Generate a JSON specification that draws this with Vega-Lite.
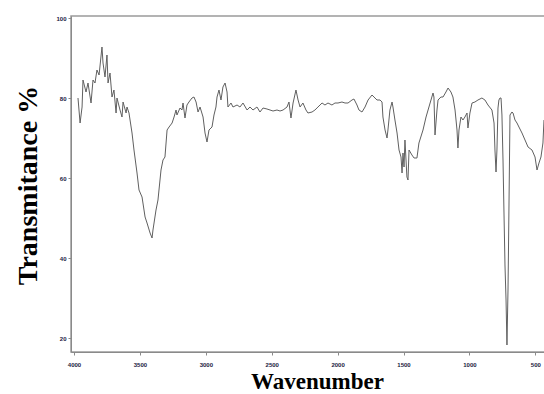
{
  "$schema": "https://vega.github.io/schema/vega-lite/v6.json",
  "autosize": {"type": "none"},
  "padding": {"left": 71, "top": 16, "right": 0, "bottom": 42},
  "width": 478,
  "height": 336,
  "background": "white",
  "config": {
    "view": {"stroke": "#9a9a9a", "strokeWidth": 1.5},
    "axis": {"grid": false, "domainColor": "#8a8a8a", "tickColor": "#8a8a8a", "tickSize": 3, "labelColor": "#1a1a40", "labelFont": "Liberation Sans", "labelFontWeight": "bold", "labelFontSize": 6, "titleFont": "Liberation Serif", "titleFontWeight": "bold", "titleColor": "#000000"}
  },
  "data": {"values": [
    {"wn":3970,"t":80},{"wn":3954,"t":73.75},{"wn":3939,"t":77.75},{"wn":3932,"t":84.5},{"wn":3909,"t":81.5},{"wn":3894,"t":83.75},{"wn":3871,"t":78.75},{"wn":3856,"t":84.5},{"wn":3841,"t":83.75},{"wn":3826,"t":87},{"wn":3810,"t":85.75},{"wn":3788,"t":92.75},{"wn":3780,"t":88.75},{"wn":3765,"t":85.25},{"wn":3750,"t":90.75},{"wn":3742,"t":83.75},{"wn":3727,"t":86.25},{"wn":3712,"t":80.25},{"wn":3697,"t":82},{"wn":3681,"t":76.25},{"wn":3674,"t":80},{"wn":3651,"t":77},{"wn":3636,"t":75.25},{"wn":3628,"t":79},{"wn":3605,"t":76.25},{"wn":3598,"t":77.75},{"wn":3583,"t":76.25},{"wn":3560,"t":71.25},{"wn":3545,"t":67},{"wn":3522,"t":61.25},{"wn":3507,"t":57},{"wn":3484,"t":55.25},{"wn":3461,"t":50.25},{"wn":3446,"t":48.75},{"wn":3423,"t":46.25},{"wn":3408,"t":45},{"wn":3401,"t":47},{"wn":3378,"t":52},{"wn":3363,"t":54.5},{"wn":3340,"t":62},{"wn":3325,"t":64.5},{"wn":3310,"t":65.25},{"wn":3294,"t":72},{"wn":3279,"t":72.75},{"wn":3256,"t":73.75},{"wn":3241,"t":75.25},{"wn":3226,"t":77},{"wn":3219,"t":75.75},{"wn":3196,"t":77.5},{"wn":3181,"t":77},{"wn":3173,"t":78.75},{"wn":3158,"t":75},{"wn":3143,"t":78.25},{"wn":3128,"t":79},{"wn":3105,"t":80},{"wn":3090,"t":80.25},{"wn":3074,"t":79},{"wn":3059,"t":76.5},{"wn":3044,"t":77.75},{"wn":3021,"t":75.25},{"wn":3006,"t":71.25},{"wn":2991,"t":69},{"wn":2976,"t":72},{"wn":2953,"t":72.75},{"wn":2938,"t":75.75},{"wn":2923,"t":77.75},{"wn":2915,"t":80.25},{"wn":2900,"t":82},{"wn":2885,"t":79.5},{"wn":2870,"t":82.75},{"wn":2854,"t":83.75},{"wn":2839,"t":81.5},{"wn":2832,"t":77.75},{"wn":2809,"t":78.75},{"wn":2794,"t":77.75},{"wn":2763,"t":78.25},{"wn":2741,"t":77.75},{"wn":2718,"t":78.75},{"wn":2687,"t":77},{"wn":2665,"t":77.75},{"wn":2642,"t":77},{"wn":2612,"t":77.75},{"wn":2589,"t":76.5},{"wn":2566,"t":77.5},{"wn":2536,"t":77.25},{"wn":2513,"t":77},{"wn":2490,"t":76.75},{"wn":2460,"t":77},{"wn":2437,"t":76.75},{"wn":2414,"t":77},{"wn":2384,"t":77.75},{"wn":2369,"t":79},{"wn":2354,"t":75},{"wn":2338,"t":78.75},{"wn":2316,"t":82},{"wn":2300,"t":79.5},{"wn":2285,"t":77.75},{"wn":2263,"t":78.75},{"wn":2240,"t":77},{"wn":2225,"t":76.25},{"wn":2194,"t":76.5},{"wn":2172,"t":77},{"wn":2149,"t":77.75},{"wn":2118,"t":78.75},{"wn":2096,"t":78.25},{"wn":2073,"t":78.75},{"wn":2043,"t":78.25},{"wn":2020,"t":78.75},{"wn":1997,"t":78.75},{"wn":1967,"t":79},{"wn":1944,"t":78.75},{"wn":1921,"t":78.75},{"wn":1891,"t":79.5},{"wn":1876,"t":79.75},{"wn":1853,"t":78.25},{"wn":1838,"t":77},{"wn":1815,"t":76.5},{"wn":1792,"t":77.75},{"wn":1769,"t":79.5},{"wn":1739,"t":80.75},{"wn":1724,"t":80.25},{"wn":1701,"t":79.5},{"wn":1678,"t":79.5},{"wn":1663,"t":79},{"wn":1656,"t":75.25},{"wn":1640,"t":72},{"wn":1625,"t":70},{"wn":1618,"t":72},{"wn":1603,"t":77},{"wn":1587,"t":79},{"wn":1580,"t":77.75},{"wn":1565,"t":74.5},{"wn":1549,"t":71.25},{"wn":1534,"t":67},{"wn":1519,"t":65.25},{"wn":1511,"t":61.25},{"wn":1504,"t":66.25},{"wn":1496,"t":62.75},{"wn":1489,"t":69.5},{"wn":1474,"t":60.25},{"wn":1466,"t":59.5},{"wn":1458,"t":67},{"wn":1436,"t":65.75},{"wn":1420,"t":65},{"wn":1398,"t":65},{"wn":1383,"t":68.75},{"wn":1352,"t":72},{"wn":1329,"t":75.25},{"wn":1307,"t":77.75},{"wn":1276,"t":81.25},{"wn":1269,"t":80.25},{"wn":1261,"t":70.75},{"wn":1246,"t":77},{"wn":1238,"t":79.5},{"wn":1216,"t":80.25},{"wn":1200,"t":80.25},{"wn":1178,"t":81.5},{"wn":1162,"t":82.5},{"wn":1140,"t":81.5},{"wn":1125,"t":80.25},{"wn":1109,"t":77},{"wn":1094,"t":72},{"wn":1087,"t":67.5},{"wn":1079,"t":72},{"wn":1064,"t":75.25},{"wn":1049,"t":74.5},{"wn":1034,"t":75.25},{"wn":1018,"t":76.25},{"wn":1011,"t":72.5},{"wn":996,"t":76.25},{"wn":980,"t":78.75},{"wn":958,"t":79},{"wn":935,"t":79.5},{"wn":905,"t":80},{"wn":882,"t":79.5},{"wn":859,"t":78.25},{"wn":829,"t":77},{"wn":813,"t":73.75},{"wn":806,"t":67},{"wn":798,"t":61.5},{"wn":791,"t":67},{"wn":783,"t":77.5},{"wn":776,"t":79.5},{"wn":768,"t":80},{"wn":760,"t":80},{"wn":753,"t":75.75},{"wn":745,"t":64.5},{"wn":738,"t":52},{"wn":730,"t":38.25},{"wn":722,"t":29.5},{"wn":715,"t":18.25},{"wn":707,"t":32},{"wn":700,"t":52},{"wn":692,"t":75.75},{"wn":677,"t":76.5},{"wn":669,"t":76.25},{"wn":654,"t":74.5},{"wn":639,"t":73.75},{"wn":624,"t":72.75},{"wn":601,"t":71.25},{"wn":578,"t":69.5},{"wn":555,"t":67.75},{"wn":525,"t":67},{"wn":502,"t":65.25},{"wn":487,"t":62},{"wn":472,"t":63.75},{"wn":457,"t":65.25},{"wn":442,"t":68.75},{"wn":434,"t":74.5}
  ]},
  "mark": {"type": "line", "color": "#606060", "strokeWidth": 1, "clip": true},
  "encoding": {
    "x": {"field": "wn", "type": "quantitative", "sort": null,
      "scale": {"domain": [396, 4023], "reverse": true, "nice": false, "zero": false},
      "axis": {"values": [4000, 3500, 3000, 2500, 2000, 1500, 1000, 500], "format": "d", "title": "Wavenumber", "titleFontSize": 23, "titleX": 246, "titleY": 36, "titleBaseline": "alphabetic", "titleAnchor": "start", "titleAlign": "center", "labelPadding": 6}},
    "y": {"field": "t", "type": "quantitative",
      "scale": {"domain": [16.5, 100.5], "nice": false, "zero": false},
      "axis": {"values": [20, 40, 60, 80, 100], "title": "Transmitance %", "titleFontSize": 28, "titleX": -43, "titleY": 169, "titleAngle": 270, "titleAlign": "center", "titleBaseline": "middle", "labelPadding": 2}}
  }
}
